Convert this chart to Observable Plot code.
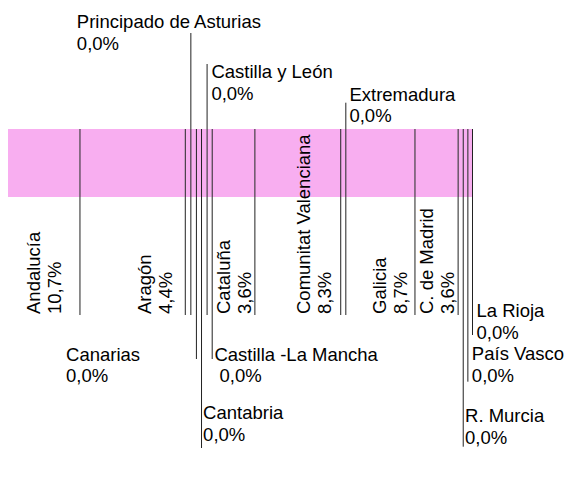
<!DOCTYPE html>
<html><head><meta charset="utf-8">
<script src="https://cdn.jsdelivr.net/npm/d3@7"></script>
<script src="https://cdn.jsdelivr.net/npm/@observablehq/plot@0.6"></script>
<style>html,body{margin:0;padding:0;background:#fff}</style>
</head><body><div id="chart"></div>
<script>
// Data
const regions = ["Andalucía","Aragón","Principado de Asturias","Canarias","Cantabria","Castilla y León","Castilla -La Mancha","Cataluña","Comunitat Valenciana","Extremadura","Galicia","C. de Madrid","R. Murcia","País Vasco","La Rioja"];
const shares = [15.4,22.7,1.2,1.2,1.1,1.2,1.1,9.2,18.5,1.1,14.9,9.3,1.1,1.0,1.0];
const percents = [10.7,4.4,0.0,0.0,0.0,0.0,0.0,3.6,8.3,0.0,8.7,3.6,0.0,0.0,0.0];

// Layout (label placement, in pixels)
const barTop = 129, barBottom = 197, stemEnd = 315;
const layout = {
  "Andalucía": {kind:"rot", dx:-18.5},
  "Aragón": {kind:"rot", dx:-13},
  "Principado de Asturias": {kind:"h", dx:-114, ty:49, top:33, bottom:stemEnd},
  "Canarias": {kind:"h", dx:-130.4, ty:381.5, top:barTop, bottom:359},
  "Cantabria": {kind:"h", dx:1.6, ty:440, top:barTop, bottom:448},
  "Castilla y León": {kind:"h", dx:4.3, ty:99, top:64, bottom:stemEnd},
  "Castilla -La Mancha": {kind:"h", dx:2.2, ty:381.5, top:barTop, bottom:359, indent:true},
  "Cataluña": {kind:"rot", dx:-4.3},
  "Comunitat Valenciana": {kind:"rot", dx:-10},
  "Extremadura": {kind:"h", dx:3.6, ty:121.5, top:102.7, bottom:stemEnd},
  "Galicia": {kind:"rot", dx:-8.3},
  "C. de Madrid": {kind:"rot", dx:-4.5},
  "R. Murcia": {kind:"h", dx:1.8, ty:443, top:barTop, bottom:446.7},
  "País Vasco": {kind:"h", dx:4, ty:381, top:barTop, bottom:381.7},
  "La Rioja": {kind:"h", dx:4, ty:338, top:barTop, bottom:335}
};

const ends = Array.from(d3.cumsum(shares));
const total = ends[ends.length - 1];
const xLeft = 8, xRight = 472;
const pxToX = total / (xRight - xLeft);
const fmt = v => d3.format(".1f")(v).replace(".", ",") + "%";

const data = regions.map((name, i) => {
  const L = layout[name];
  return {
    name, pct: percents[i], start: ends[i] - shares[i], end: ends[i],
    kind: L.kind, dx: L.dx,
    ty: L.ty, top: L.kind === "rot" ? barTop : L.top, bottom: L.kind === "rot" ? stemEnd : L.bottom,
    label: name + "\n" + (L.indent ? "\u00a0" : "") + fmt(percents[i])
  };
});

const font = "Liberation Sans, Arial, Helvetica, sans-serif";
const fs = 18.5;

const chart = Plot.plot({
  width: 565, height: 485,
  marginTop: 0, marginRight: 0, marginBottom: 0, marginLeft: 0,
  style: {background: "#fff", fontFamily: font},
  x: {domain: [0, total], range: [xLeft, xRight], axis: null},
  y: {domain: [0, 485], range: [0, 485], axis: null},
  marks: [
    Plot.rect(data, {x1: "start", x2: "end", y1: () => barTop, y2: () => barBottom, fill: "#f8aef0"}),
    Plot.ruleX(data, {x: "end", y1: "top", y2: "bottom", stroke: "#222", strokeWidth: 1}),
    Plot.text(data.filter(d => d.kind === "rot"), {
      x: d => d.end + d.dx * pxToX, y: () => stemEnd - 1.5, text: "label",
      rotate: -90, textAnchor: "start", lineAnchor: "bottom", lineHeight: 1.14,
      fontSize: fs, fontFamily: font, fill: "#000"
    }),
    Plot.text(data.filter(d => d.kind === "h"), {
      x: d => d.end + d.dx * pxToX, y: "ty", text: "label",
      textAnchor: "start", lineAnchor: "bottom", lineHeight: 1.14,
      fontSize: fs, fontFamily: font, fill: "#000"
    })
  ]
});
document.getElementById("chart").appendChild(chart);
</script>
</body></html>
